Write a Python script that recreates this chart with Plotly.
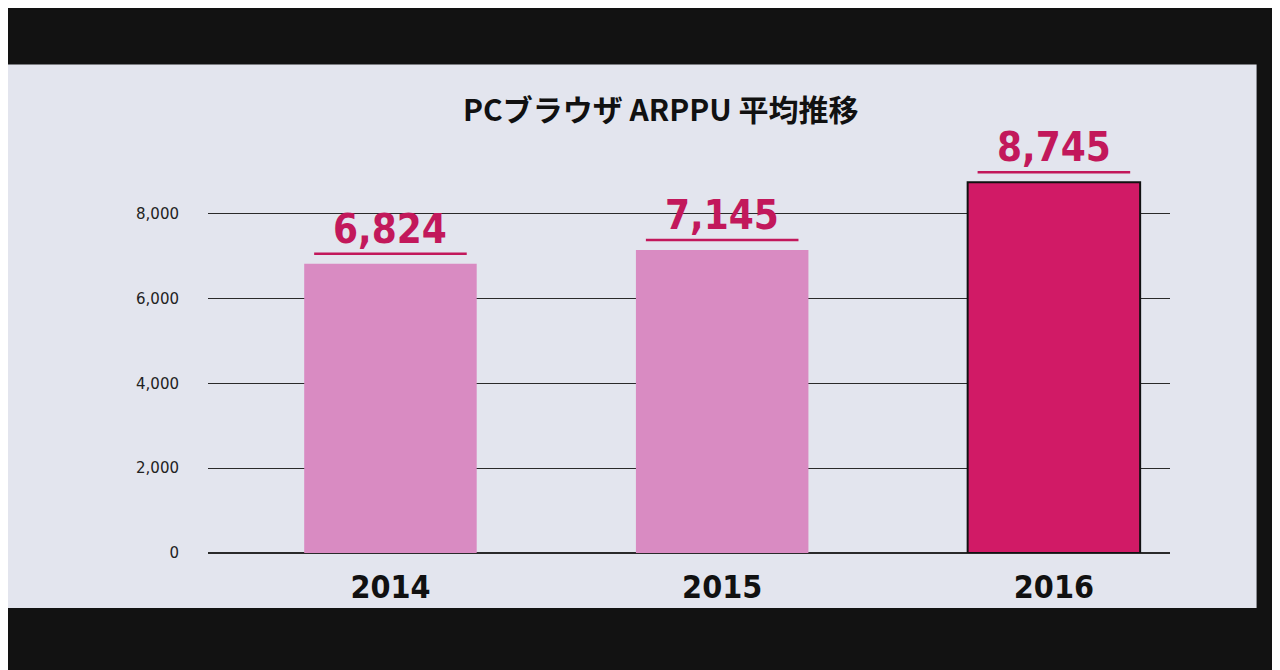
import plotly.graph_objects as go

years = ["2014", "2015", "2016"]
arppu = [6824, 7145, 8745]
bar_colors = ["#d98bc2", "#d98bc2", "#d11a66"]
bar_lines = ["#d98bc2", "#d98bc2", "#111111"]
y_ticks = [0, 2000, 4000, 6000, 8000]
y_ticktext = ["0", "2,000", "4,000", "6,000", "8,000"]
title_text = "PCブラウザ ARPPU 平均推移"

xpos = list(range(len(years)))
bar_w = 0.52
narrow = "Liberation Sans Narrow, DejaVu Sans Condensed, Roboto, sans-serif"

fig = go.Figure()
fig.add_trace(go.Bar(
    x=xpos, y=arppu, width=bar_w,
    marker=dict(color=bar_colors, line=dict(color=bar_lines, width=[0, 0, 2])),
    hoverinfo="skip",
))

annotations = []
shapes = []
# slide background
shapes.append(dict(type="rect", xref="paper", yref="paper", x0=-0.3, x1=1.09,
                   y0=-0.135, y1=1.2, fillcolor="#e3e5ee", line=dict(width=0), layer="below"))
for x, v in zip(xpos, arppu):
    annotations.append(dict(x=x, y=v, xref="x", yref="y", text=f"{v:,}",
                            showarrow=False, yanchor="bottom", yshift=10,
                            font=dict(family=narrow, size=40, color="#c2185b", weight="bold")))
    shapes.append(dict(type="line", xref="x", yref="y", x0=x - 0.23, x1=x + 0.23,
                       ysizemode="pixel", yanchor=v, y0=10, y1=10,
                       line=dict(color="#c2185b", width=2.5)))

annotations.append(dict(x=0.47, y=1.0, xref="paper", yref="paper", yanchor="bottom", yshift=14,
                        text=f"<b>{title_text}</b>", showarrow=False,
                        font=dict(family="Noto Sans CJK JP, sans-serif", size=30, color="#111111")))

fig.update_layout(
    width=1280, height=670,
    paper_bgcolor="#121212",
    plot_bgcolor="rgba(0,0,0,0)",
    margin=dict(l=200, r=118, t=138, b=125),
    showlegend=False,
    bargap=0.4,
    annotations=annotations,
    shapes=shapes,
    xaxis=dict(
        range=[-0.55, 2.35], tickvals=xpos, ticktext=years, showgrid=False,
        zeroline=False, showline=False, ticks="", ticklabelstandoff=12,
        tickfont=dict(family=narrow, size=32, color="#111111", weight="bold"),
    ),
    yaxis=dict(
        range=[0, 9600], tickvals=y_ticks, ticktext=y_ticktext,
        showgrid=True, gridcolor="#2a2a2a", gridwidth=1,
        zeroline=True, zerolinecolor="#2a2a2a", zerolinewidth=1.5,
        showline=False, ticks="", ticklabelstandoff=28,
        tickfont=dict(family="DejaVu Sans, sans-serif", size=15, color="#222222"),
    ),
)

fig.write_html("out.html")
